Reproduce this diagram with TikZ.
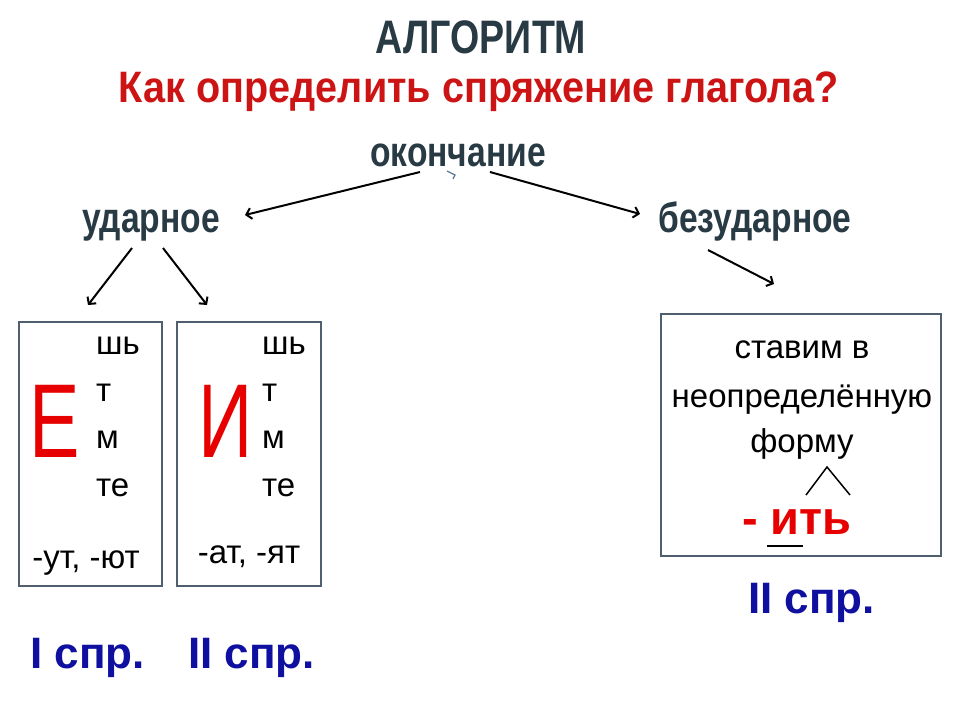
\documentclass[tikz,border=0pt]{standalone}
\usepackage{fontspec}
\setmainfont{Liberation Sans}
\newfontfamily\narrowbf[FakeStretch=0.8]{Liberation Sans Bold}
\newfontfamily\questbf[FakeStretch=0.9]{Liberation Sans Bold}
\newfontfamily\bigletter[FakeStretch=0.72]{Liberation Sans}
\usetikzlibrary{arrows.meta,positioning}
\definecolor{headgray}{RGB}{40,58,68}
\definecolor{titlered}{RGB}{204,20,20}
\definecolor{letterred}{RGB}{230,0,0}
\definecolor{sprblue}{RGB}{16,16,160}
\definecolor{framegray}{RGB}{80,95,112}
\definecolor{markblue}{RGB}{90,120,150}
\tikzset{head/.style={inner sep=0, text=headgray, font=\narrowbf\fontsize{42}{42}\selectfont}}
\tikzset{arr/.style={draw, -{Straight Barb[length=5pt,width=11pt]}, line width=2pt}}
\tikzset{frame/.style={draw=framegray, line width=2pt}}
\tikzset{small/.style={inner sep=0, font=\fontsize{33}{33}\selectfont}}
\tikzset{big/.style={inner sep=0, text=letterred, font=\bigletter\fontsize{105}{105}\selectfont}}
\tikzset{spr/.style={inner sep=0, text=sprblue, font=\bfseries\fontsize{44}{44}\selectfont}}

\begin{document}
\begin{tikzpicture}[x=1pt, y=-1pt]
				\useasboundingbox[fill=white] (0,0) rectangle (960,720);

				% titles
				\node[head, anchor=base, font=\narrowbf\fontsize{47}{47}\selectfont] (algo) at (481,53) {АЛГОРИТМ};
				\node[head, anchor=base, text=titlered, font=\questbf\fontsize{44}{44}\selectfont] (quest) at (479,102) {Как определить спряжение глагола?};
				\node[head, anchor=base] (okon) at (458,166) {окончание};
				\node[head, anchor=base] (udar) at (151,232) {ударное};
				\node[head, anchor=base] (bezud) at (755,232) {безударное};
				\draw[markblue, line width=1.3pt] (447,171) -- (455,175) -- (453,179);

				% arrows
				\coordinate (okL) at (420,172);
				\coordinate (okR) at (490,172);
				\draw[arr] (okL) -- (245,215);
				\draw[arr] (okR) -- (640,214);
				\coordinate (udL) at (132,248);
				\coordinate (udR) at (163,248);
				\draw[arr] (udL) -- (88,305);
				\draw[arr] (udR) -- (207,305);
				\coordinate (bzL) at (708,250);
				\draw[arr] (bzL) -- (774,284);

				% boxes
				\draw[frame] (19,322) rectangle (162,586);
				\draw[frame] (177,322) rectangle (321,586);
				\draw[frame] (661,314) rectangle (941,556);

				% I conjugation
				\node[big, anchor=base west] (E) at (29,457) {Е};
				\node[small, anchor=base west] (e1) at (96,354) {шь};
				\node[small, anchor=base west] (e2) at (96,401) {т};
				\node[small, anchor=base west] (e3) at (96,448) {м};
				\node[small, anchor=base west] (e4) at (96,496) {те};
				\node[small, anchor=base] (eEnd) at (86,568) {-ут, -ют};

				% II conjugation
				\node[big, anchor=base west] (I) at (198,457) {И};
				\node[small, anchor=base west] (i1) at (262,354) {шь};
				\node[small, anchor=base west] (i2) at (262,401) {т};
				\node[small, anchor=base west] (i3) at (262,448) {м};
				\node[small, anchor=base west] (i4) at (262,496) {те};
				\node[small, anchor=base] (iEnd) at (249,563) {-ат, -ят};

				% unstressed
				\node[small, anchor=base] (inf1) at (802,358) {ставим в};
				\node[small, anchor=base] (inf2) at (802,407) {неопределённую};
				\node[small, anchor=base] (inf3) at (802,452) {форму};
				\coordinate (capL) at (806,495);
				\coordinate (capR) at (850,495);
				\draw[line width=1.5pt] (capL) -- (827,467) -- (capR);
				\node[inner sep=0, anchor=base, text=letterred, font=\bfseries\fontsize{47}{47}\selectfont] (it) at (797,534) {- ить};
				\draw[line width=2pt] (767,546) -- (803,546);

				% conjugation labels
				\node[spr, anchor=base west] (spr1) at (30,668) {I спр.};
				\node[spr, anchor=base west] (spr2) at (188,668) {II спр.};
				\node[spr, anchor=base west] (spr3) at (748,613) {II спр.};
			\end{tikzpicture}
\end{document}
